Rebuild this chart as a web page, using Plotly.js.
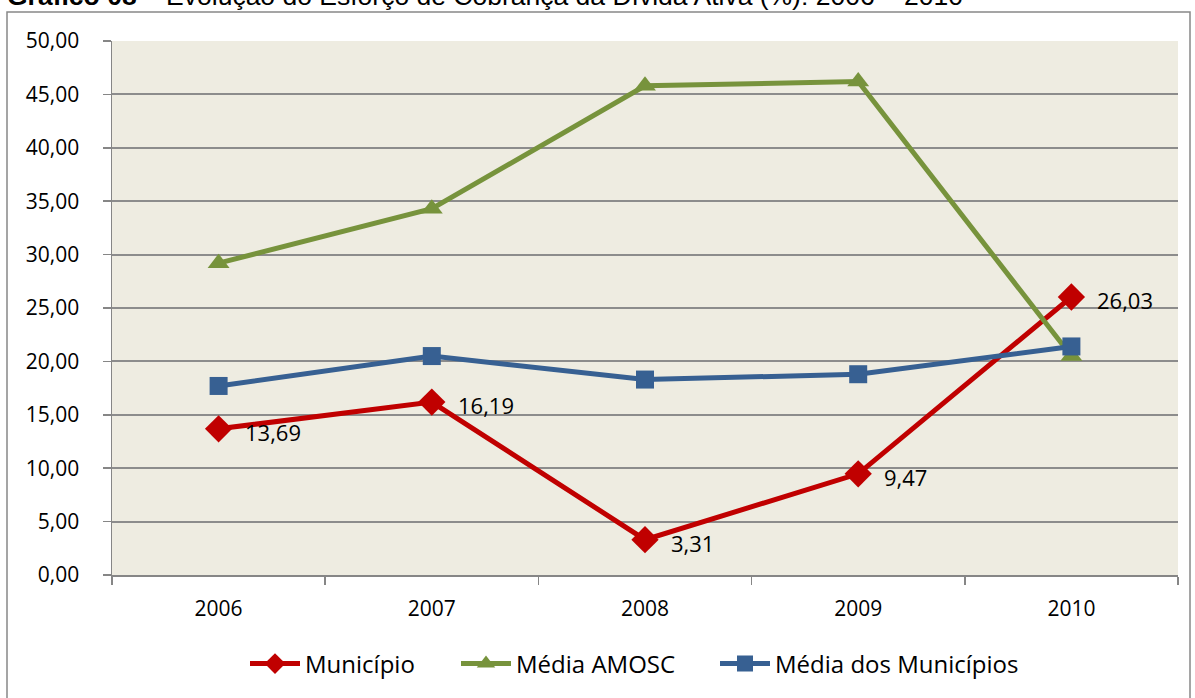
<!DOCTYPE html>
<html>
<head>
<meta charset="utf-8">
<script src="https://cdn.plot.ly/plotly-3.0.1.min.js"></script>
<style>
html,body{margin:0;padding:0;background:#fff;overflow:hidden;}
#chart{width:1195px;height:698px;}
</style>
</head>
<body>
<div id="chart"></div>
<script>
const years = ['2006', '2007', '2008', '2009', '2010'];
const municipio = [13.69, 16.19, 3.31, 9.47, 26.03];
const mediaAmosc = [29.2, 34.3, 45.8, 46.2, 20.5];
const mediaMunicipios = [17.7, 20.5, 18.3, 18.8, 21.4];
const yTicks = [0, 5, 10, 15, 20, 25, 30, 35, 40, 45, 50];
const titleBold = 'Gráfico 08';
const titleRest = ' – Evolução do Esforço de Cobrança da Dívida Ativa (%): 2006 – 2010';
const seriesNames = ['Município', 'Média AMOSC', 'Média dos Municípios'];

const FONT = 'Open Sans, Lato, sans-serif';
const W = 1195, H = 698;
const M = {l: 112, r: 17, t: 41, b: 123};
const pw = W - M.l - M.r, ph = H - M.t - M.b;
const px2x = p => (p - M.l) / pw;
const py2y = p => (H - M.b - p) / ph;

const traces = [
  {x: years, y: municipio, name: seriesNames[0], type: 'scatter', mode: 'lines+markers', legend: 'legend',
   line: {color: '#C00000', width: 5}, marker: {symbol: 'diamond', size: 21, color: '#C00000'}},
  {x: years, y: mediaAmosc, name: seriesNames[1], type: 'scatter', mode: 'lines+markers', legend: 'legend2',
   line: {color: '#77933C', width: 5}, marker: {symbol: 'triangle-up', size: 19, color: '#77933C'}},
  {x: years, y: mediaMunicipios, name: seriesNames[2], type: 'scatter', mode: 'lines+markers', legend: 'legend3',
   line: {color: '#376092', width: 5}, marker: {symbol: 'square', size: 18, color: '#376092'}}
];

const fmt = v => v.toFixed(2).replace('.', ',');
const annotations = municipio.map((v, i) => ({
  x: i, y: v, xref: 'x', yref: 'y', text: fmt(v), showarrow: false,
  xanchor: 'left', yanchor: 'middle', xshift: 25, yshift: -3, borderpad: 0,
  font: {family: FONT, size: 22, color: '#000'}
}));
annotations.push({
  xref: 'paper', yref: 'paper', x: px2x(6), y: py2y(-4), xanchor: 'left', yanchor: 'middle',
  showarrow: false, borderpad: 0,
  text: '<b>' + titleBold + '</b>' + titleRest,
  font: {family: 'Liberation Sans, Arial, sans-serif', size: 26.5, color: '#000'}
});

const legendBase = (px) => ({orientation: 'h', x: px2x(px), xanchor: 'left', y: py2y(664), yanchor: 'middle',
  font: {family: FONT, size: 24, color: '#000'}, itemwidth: 50, bgcolor: 'rgba(0,0,0,0)', borderwidth: 0});

const tickFont = {family: FONT, size: 21, color: '#000'};

const layout = {
  width: W, height: H,
  margin: M,
  paper_bgcolor: '#ffffff',
  plot_bgcolor: '#EEECE1',
  separators: ',.',
  showlegend: true,
  legend: legendBase(245),
  legend2: legendBase(456),
  legend3: legendBase(715),
  xaxis: {type: 'category', range: [-0.5, 4.5], showgrid: false, zeroline: false,
          showline: true, linecolor: '#868686', linewidth: 1.5,
          ticks: 'outside', tickson: 'boundaries', ticklen: 8, tickcolor: '#868686', tickwidth: 1.5,
          ticklabelstandoff: 14,
          tickfont: tickFont},
  yaxis: {range: [0, 50], tickvals: yTicks, tickformat: '.2f', showgrid: true, gridcolor: '#8C8C8C', gridwidth: 2,
          zeroline: false, showline: true, linecolor: '#868686', linewidth: 1.5,
          ticks: 'outside', ticklen: 8, tickcolor: '#868686', tickwidth: 1.5,
          ticklabelstandoff: 19,
          tickfont: tickFont},
  annotations: annotations,
  shapes: [{type: 'rect', xref: 'paper', yref: 'paper', x0: px2x(7), x1: px2x(1190), y0: py2y(720), y1: py2y(12),
            line: {color: '#888888', width: 1.5}, fillcolor: 'rgba(0,0,0,0)', layer: 'below'}]
};

Plotly.newPlot('chart', traces, layout, {displayModeBar: false, staticPlot: true});
</script>
</body>
</html>
